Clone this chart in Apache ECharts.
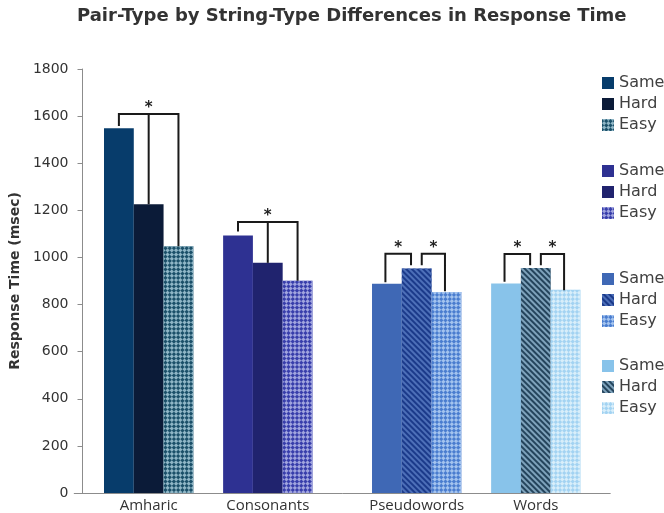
<!DOCTYPE html>
<html>
<head>
<meta charset="utf-8">
<script src="https://cdn.jsdelivr.net/npm/echarts@6/dist/echarts.min.js"></script>
<style>
html,body{margin:0;padding:0;background:#fff;}
#chart{width:664px;height:513px;}
</style>
</head>
<body>
<div id="chart"></div>
<script>
// ---- data ----
const categories = ['Amharic', 'Consonants', 'Pseudowords', 'Words'];
const pairTypes = ['Same', 'Hard', 'Easy'];
const sameRT = [1548, 1093, 888, 889];
const hardRT = [1226, 977, 953, 955];
const easyRT = [1048, 901, 853, 863];
const yTicks = [0, 200, 400, 600, 800, 1000, 1200, 1400, 1600, 1800];
// significance brackets: [pair index, leg end value], bracket top value
const sigBrackets = [
  { group: 0, top: 1609, legs: [[0, 1558], [1, 1226], [2, 1048]] },
  { group: 1, top: 1151, legs: [[0, 1110], [1, 977], [2, 901]] },
  { group: 2, top: 1016, legs: [[0, 895], [1, 967]] },
  { group: 2, top: 1016, legs: [[1, 967], [2, 857]] },
  { group: 3, top: 1015, legs: [[0, 897], [1, 967]] },
  { group: 3, top: 1015, legs: [[1, 967], [2, 861]] }
];

// ---- layout (slots on the category axis) ----
const slotCount = 18;
const groupFirstSlot = [1, 5, 10, 14];
const values = [sameRT, hardRT, easyRT];

const slotNames = [];
const slotLabels = [];
for (let i = 0; i < slotCount; i++) { slotNames.push('s' + i); slotLabels.push(''); }
categories.forEach((c, g) => { slotLabels[groupFirstSlot[g] + 1] = c; });

// ---- styles ----
function checker(color) {
  return { symbol: 'rect', symbolSize: 1, dashArrayX: [[3, 3], [0, 3, 3, 0]], dashArrayY: [3, 0], rotation: Math.PI / 4, color: color };
}
function stripes(color) {
  return { symbol: 'rect', symbolSize: 1, dashArrayX: [1, 0], dashArrayY: [1.4, 1.6], rotation: Math.PI / 4, color: color };
}
const styles = [
  [ { color: '#073c6b' }, { color: '#0b1b38' }, { color: '#1b5069', decal: checker('#8fb6c6') } ],
  [ { color: '#2e3192' }, { color: '#20236e' }, { color: '#383eab', decal: checker('#a0a4de') } ],
  [ { color: '#3f68b5' }, { color: '#1b3a8a', decal: stripes('#4d6fb8') }, { color: '#4a7dcf', decal: checker('#a3c3ee') } ],
  [ { color: '#88c3ea' }, { color: '#24445c', decal: stripes('#7ea2bb') }, { color: '#a3d3f2', decal: checker('#d8eefa') } ]
];

const series = [];
categories.forEach((c, g) => {
  pairTypes.forEach((p, k) => {
    const data = new Array(slotCount).fill(null);
    data[groupFirstSlot[g] + k] = values[k][g];
    series.push({
      name: p + '#' + g,
      type: 'bar',
      data: data,
      barGap: '-100%',
      barCategoryGap: '0%',
      itemStyle: styles[g][k],
      emphasis: { disabled: true },
      animation: false
    });
  });
});

series.push({
  type: 'custom',
  coordinateSystem: 'cartesian2d',
  animation: false,
  silent: true,
  z: 10,
  data: sigBrackets.map(b => [groupFirstSlot[b.group], b.top]),
  renderItem: function (params, api) {
    const b = sigBrackets[params.dataIndex];
    const base = groupFirstSlot[b.group];
    const w = api.size([1, 0])[0];
    const two = b.legs.length === 2;
    const pts = b.legs.map((leg, k) => {
      let shift = 0;
      if (two) {
        if (leg[0] === 1) shift = (k === 1) ? -0.19 : 0.17;
        else shift = -0.05;
      }
      const t = api.coord([base + leg[0], b.top]);
      const e = api.coord([base + leg[0], leg[1]]);
      return { x: t[0] + shift * w, yt: t[1], ye: e[1] };
    });
    const first = pts[0], last = pts[pts.length - 1];
    const lineStyle = { stroke: '#1a1a1a', lineWidth: 2, fill: null };
    const children = [{
      type: 'polyline',
      shape: { points: [[first.x, first.ye], [first.x, first.yt], [last.x, last.yt], [last.x, last.ye]] },
      style: lineStyle
    }];
    for (let i = 1; i < pts.length - 1; i++) {
      children.push({ type: 'line', shape: { x1: pts[i].x, y1: pts[i].yt, x2: pts[i].x, y2: pts[i].ye }, style: lineStyle });
    }
    children.push({
      type: 'text',
      style: {
        text: '*', x: (first.x + last.x) / 2, y: first.yt - 6,
        align: 'center', verticalAlign: 'middle',
        font: 'bold 15px "DejaVu Sans"', fill: '#222'
      }
    });
    return { type: 'group', children: children };
  }
});

const legendTops = [75, 163, 271, 358];
const legends = categories.map((c, g) => ({
  data: pairTypes.map(p => p + '#' + g),
  orient: 'vertical',
  left: 602,
  top: legendTops[g],
  padding: 0,
  itemWidth: 12,
  itemHeight: 12,
  itemGap: 5,
  icon: 'rect',
  selectedMode: false,
  formatter: n => n.split('#')[0],
  textStyle: { fontFamily: 'DejaVu Sans', fontSize: 16, color: '#404040' }
}));

const chart = echarts.init(document.getElementById('chart'), null, { renderer: 'canvas' });
chart.setOption({
  animation: false,
  backgroundColor: '#ffffff',
  title: {
    text: 'Pair-Type by String-Type Differences in Response Time',
    left: 72,
    top: 2,
    textStyle: { fontFamily: 'DejaVu Sans', fontWeight: 'bold', fontSize: 18, color: '#333333' }
  },
  legend: legends,
  grid: { left: 72.4, top: 69, width: 29.88 * slotCount, height: 425, containLabel: false },
  xAxis: {
    type: 'category',
    data: slotNames,
    axisLine: { show: true, lineStyle: { color: '#8c8c8c', width: 1 } },
    axisTick: { show: false },
    axisLabel: {
      interval: 0,
      formatter: (v, i) => slotLabels[i],
      fontFamily: 'Open Sans', fontSize: 15, color: '#333333', margin: 5
    }
  },
  yAxis: {
    type: 'value',
    min: yTicks[0],
    max: yTicks[yTicks.length - 1],
    interval: yTicks[1] - yTicks[0],
    offset: -8.3,
    name: 'Response Time (msec)',
    nameLocation: 'middle',
    nameGap: 58,
    nameTextStyle: { fontFamily: 'DejaVu Sans', fontWeight: 'bold', fontSize: 14, color: '#333333' },
    axisLine: { show: true, lineStyle: { color: '#8c8c8c', width: 1 } },
    axisTick: { show: true, length: 5, lineStyle: { color: '#8c8c8c' } },
    splitLine: { show: false },
    axisLabel: { fontFamily: 'DejaVu Sans', fontSize: 14, color: '#333333', margin: 14, formatter: v => String(v) }
  },
  series: series
});
</script>
</body>
</html>
